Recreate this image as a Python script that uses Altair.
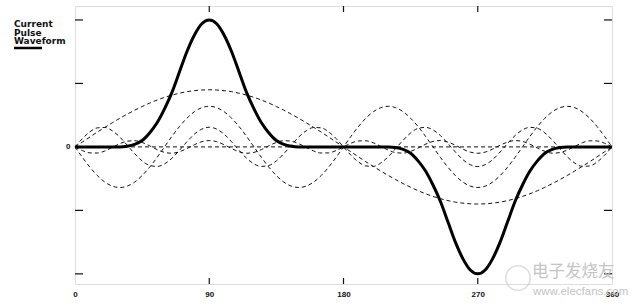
import altair as alt
import pandas as pd

angle = list(range(0, 361, 5))

pulse = [0, 0, 0, 0, 0, 0, 0, .005, .02, .05, .11, .19, .30, .43, .59, .75, .88, .97, 1.0,
         .97, .88, .75, .59, .43, .30, .19, .11, .05, .02, .005, 0, 0, 0, 0, 0, 0, 0,
         0, 0, 0, 0, 0, 0, -.005, -.02, -.05, -.11, -.19, -.30, -.43, -.59, -.75, -.88, -.97, -1.0,
         -.97, -.88, -.75, -.59, -.43, -.30, -.19, -.11, -.05, -.02, -.005, 0, 0, 0, 0, 0, 0, 0]

h1 = [0, .039, .078, .117, .154, .190, .225, .258, .289, .318, .345, .369, .390, .408, .423, .435, .443, .448, .45,
      .448, .443, .435, .423, .408, .390, .369, .345, .318, .289, .258, .225, .190, .154, .117, .078, .039, 0,
      -.039, -.078, -.117, -.154, -.190, -.225, -.258, -.289, -.318, -.345, -.369, -.390, -.408, -.423, -.435, -.443, -.448, -.45,
      -.448, -.443, -.435, -.423, -.408, -.390, -.369, -.345, -.318, -.289, -.258, -.225, -.190, -.154, -.117, -.078, -.039, 0]

h3 = [0, -.083, -.16, -.226, -.277, -.309, -.32, -.309, -.277, -.226, -.16, -.083, 0, .083, .16, .226, .277, .309, .32,
      .309, .277, .226, .16, .083, 0, -.083, -.16, -.226, -.277, -.309, -.32, -.309, -.277, -.226, -.16, -.083, 0,
      .083, .16, .226, .277, .309, .32, .309, .277, .226, .16, .083, 0, -.083, -.16, -.226, -.277, -.309, -.32,
      -.309, -.277, -.226, -.16, -.083, 0, .083, .16, .226, .277, .309, .32, .309, .277, .226, .16, .083, 0]

h5 = [0, .066, .119, .150, .153, .127, .078, .013, -.053, -.110, -.146, -.154, -.134, -.089, -.027, .040, .100, .140, .155,
      .140, .100, .040, -.027, -.089, -.134, -.154, -.146, -.110, -.053, .013, .078, .127, .153, .150, .119, .066, 0,
      -.066, -.119, -.150, -.153, -.127, -.078, -.013, .053, .110, .146, .154, .134, .089, .027, -.040, -.100, -.140, -.155,
      -.140, -.100, -.040, .027, .089, .134, .154, .146, .110, .053, -.013, -.078, -.127, -.153, -.150, -.119, -.066, 0]

h7 = [0, -.029, -.047, -.048, -.032, -.004, .025, .045, .049, .035, .009, -.021, -.043, -.050, -.038, -.013, .017, .041, .05,
      .041, .017, -.013, -.038, -.050, -.043, -.021, .009, .035, .049, .045, .025, -.004, -.032, -.048, -.047, -.029, 0,
      .029, .047, .048, .032, .004, -.025, -.045, -.049, -.035, -.009, .021, .043, .050, .038, .013, -.017, -.041, -.05,
      -.041, -.017, .013, .038, .050, .043, .021, -.009, -.035, -.049, -.045, -.025, .004, .032, .048, .047, .029, 0]

zero_x = [0, 360]
zero_y = [0, 0]

x_labels = [0, 90, 180, 270, 360]
x_ticks = [90, 180, 270]
y_ticks = [-1, -0.5, 0.5, 1]

legend_lines = ["Current", "Pulse", "Waveform"]
watermark = ["电子发烧友", "www.elecfans.com"]

W, H = 537, 278

rows = []
for name, vals in [("h1", h1), ("h3", h3), ("h5", h5), ("h7", h7)]:
    for a, v in zip(angle, vals):
        rows.append({"angle": a, "value": v, "series": name})
df_h = pd.DataFrame(rows)
df_p = pd.DataFrame({"angle": angle, "value": pulse})
df_z = pd.DataFrame({"angle": zero_x, "value": zero_y})
df_xt = pd.DataFrame({"angle": x_ticks})
df_yt = pd.DataFrame({"value": y_ticks})

xs = alt.Scale(domain=[0, 360], nice=False, zero=False)
ys = alt.Scale(domain=[-1.08, 1.11], nice=False, zero=False)

FONT = "Liberation Sans"

x_axis = alt.Axis(values=x_labels, title=None, ticks=False, domain=False, grid=False,
                  labelFontSize=8, labelFont=FONT, labelFontWeight="bold", labelColor="#111",
                  labelPadding=6, labelFlush=False, labelOverlap=False, format="d")
y_axis = alt.Axis(values=[0], title=None, ticks=False, domain=False, grid=False,
                  labelFontSize=8, labelFont=FONT, labelFontWeight="bold", labelColor="#111",
                  labelPadding=5, format="d")

dashed = alt.Chart(df_h).mark_line(
    strokeDash=[4, 3], strokeWidth=1, color="#111", interpolate="monotone"
).encode(
    x=alt.X("angle:Q", scale=xs, axis=x_axis),
    y=alt.Y("value:Q", scale=ys, axis=y_axis),
    detail="series:N",
)

zero = alt.Chart(df_z).mark_line(strokeDash=[4, 3], strokeWidth=1, color="#111").encode(
    x=alt.X("angle:Q", scale=xs), y=alt.Y("value:Q", scale=ys)
)

pulse_line = alt.Chart(df_p).mark_line(strokeWidth=3, color="#000", interpolate="monotone").encode(
    x=alt.X("angle:Q", scale=xs), y=alt.Y("value:Q", scale=ys)
)

left_t = alt.Chart(df_yt).mark_rule(color="#111", strokeWidth=1.2).encode(
    y=alt.Y("value:Q", scale=ys), x=alt.value(0), x2=alt.value(8))
right_t = alt.Chart(df_yt).mark_rule(color="#111", strokeWidth=1.2).encode(
    y=alt.Y("value:Q", scale=ys), x=alt.value(W - 8), x2=alt.value(W))
top_t = alt.Chart(df_xt).mark_rule(color="#111", strokeWidth=1.2).encode(
    x=alt.X("angle:Q", scale=xs), y=alt.value(0), y2=alt.value(6))
bot_t = alt.Chart(df_xt).mark_rule(color="#111", strokeWidth=1.2).encode(
    x=alt.X("angle:Q", scale=xs), y=alt.value(H - 6), y2=alt.value(H))

one = pd.DataFrame({"a": [0]})
legend_layers = []
for i, t in enumerate(legend_lines):
    legend_layers.append(
        alt.Chart(one).mark_text(
            align="left", baseline="middle", font="DejaVu Sans", fontSize=9,
            fontWeight="bold", color="#111", text=t
        ).encode(x=alt.value(-61), y=alt.value(18 + i * 8.5))
    )
legend_rule = alt.Chart(one).mark_rule(color="#000", strokeWidth=2.5).encode(
    x=alt.value(-61), x2=alt.value(-33), y=alt.value(42)
)

logo = alt.Chart(one).mark_point(
    shape="circle", size=600, filled=False, color="#cfcfcf", strokeWidth=1.5
).encode(x=alt.value(443), y=alt.value(272))

wm = alt.Chart(one).mark_text(
    align="left", baseline="middle", font="Noto Sans CJK SC", fontSize=16.5, color="#c4c4c4",
    text=watermark[0]
).encode(x=alt.value(457), y=alt.value(266))
wm2 = alt.Chart(one).mark_text(
    align="left", baseline="middle", font=FONT, fontSize=11.5, color="#c4c4c4",
    text=watermark[1]
).encode(x=alt.value(458), y=alt.value(286))

chart = alt.layer(
    dashed, zero, pulse_line, left_t, right_t, top_t, bot_t, *legend_layers, legend_rule,
    logo, wm, wm2
).properties(
    width=W, height=H,
    autosize=alt.AutoSizeParams(type="none"),
    padding={"left": 75, "top": 6, "right": 26, "bottom": 23},
).configure_view(stroke="#111", strokeWidth=1.5).configure(background="white")

chart.save("out.html", embed_options={"renderer": "svg", "actions": False})
